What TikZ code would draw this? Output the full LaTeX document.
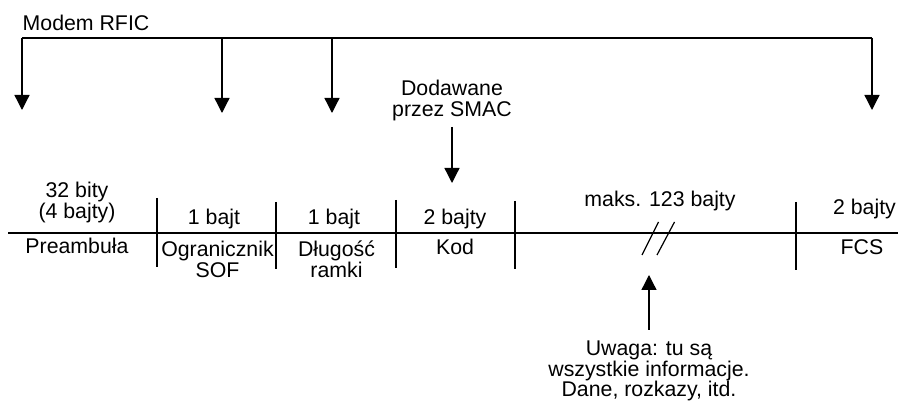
\documentclass[tikz,border=0pt]{standalone}
\usepackage{fontspec}
\setmainfont{Liberation Sans}
\usetikzlibrary{arrows.meta}
\tikzset{
  >={Triangle[width=15pt,length=15pt]},
  wire/.style={line width=1.3pt},
  arrow/.style={wire, ->},
  sep/.style={line width=1.2pt},
  lbl/.style={font=\fontsize{21.3}{20.5}\selectfont, align=center, inner sep=0pt, anchor=base}
}
\begin{document}
\begin{tikzpicture}[x=1pt, y=-1pt]
    \useasboundingbox (0,0) rectangle (898,403);

    \coordinate (BusL)  at ( 22, 38);
    \coordinate (BusS)  at (222, 38);
    \coordinate (BusD)  at (332, 38);
    \coordinate (BusR)  at (872, 38);
    \coordinate (TipP)  at ( 22,110);
    \coordinate (TipS)  at (222,113);
    \coordinate (TipD)  at (332,113);
    \coordinate (TipF)  at (872,110);
    \coordinate (SmacA) at (452,127);
    \coordinate (SmacB) at (452,183);
    \coordinate (NoteA) at (649,330);
    \coordinate (NoteB) at (649,275);
    \coordinate (LineL) at (  8,233);
    \coordinate (LineR) at (898,233);

    \node [lbl, anchor=base west] (rfic) at (22.5, 31) {Modem RFIC};
    \node [lbl] (smac) at (452, 116.5) {Dodawane\\przez SMAC};

    \node [lbl] (szPre) at ( 77,218.5) {32 bity\\(4 bajty)};
    \node [lbl] (szSof) at (214,225) {1 bajt};
    \node [lbl] (szLen) at (334,225) {1 bajt};
    \node [lbl] (szKod) at (455,225) {2 bajty};
    \node [lbl] (szDat) at (660,207) {maks. 123 bajty};
    \node [lbl] (szFcs) at (864.5,215) {2 bajty};

    \node [lbl] (nmPre) at ( 77,254) {Preambuła};
    \node [lbl] (nmSof) at (217.5,277.5) {Ogranicznik\\SOF};
    \node [lbl] (nmLen) at (336.5,277.5) {Długość\\ramki};
    \node [lbl] (nmKod) at (455,255) {Kod};
    \node [lbl] (nmFcs) at (862,255) {FCS};

    \node [lbl] (note) at (649,397) {Uwaga: tu są\\wszystkie informacje.\\Dane, rozkazy, itd.};

    \draw [wire]  (BusL) -- (BusR);
    \draw [arrow] (BusL) -- (TipP);
    \draw [arrow] (BusS) -- (TipS);
    \draw [arrow] (BusD) -- (TipD);
    \draw [arrow] (BusR) -- (TipF);
    \draw [arrow] (SmacA) -- (SmacB);
    \draw [arrow] (NoteA) -- (NoteB);

    \draw [wire] (LineL) -- (LineR);
    \foreach \x/\a/\b in {157/198/267, 276/202/269, 396/200/268, 515/201/269, 796/202/270}
      \draw [sep] (\x,\a) -- (\x,\b);

    \draw [sep] (642,255) -- (658.5,222);
    \draw [sep] (657,255) -- (674.5,222);
\end{tikzpicture}
\end{document}
